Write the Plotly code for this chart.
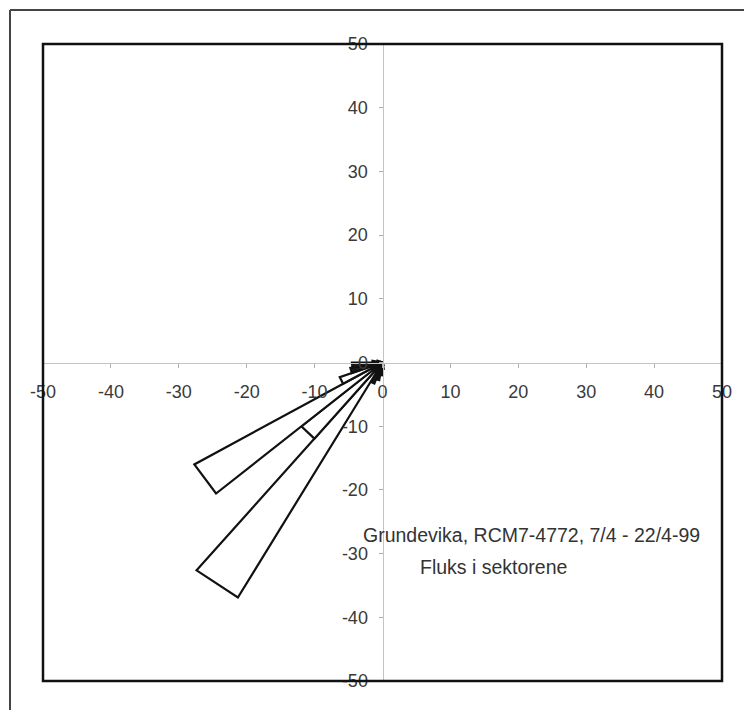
import numpy as np
import plotly.graph_objects as go

# Sector start bearings (degrees, clockwise from north), 10-degree sectors
sector_start = list(range(0, 360, 10))
# Flux in each sector
flux = [0, 0, 0, 0, 0, 0, 0, 0, 0, 0, 0, 0, 0, 0, 0, 0,
        0.6, 1.0, 2.0, 2.8, 3.5, 42.6, 15.6, 32.0, 6.7, 4.8, 4.5, 1.5,
        0.8, 0.5, 0, 0, 0, 0, 0, 0]
sector_width = 10

tick_vals = [-50, -40, -30, -20, -10, 0, 10, 20, 30, 40, 50]
tick_text = ["-50", "-40", "-30", "-20", "-10", "0", "10", "20", "30", "40", "50"]

title_line1 = "Grundevika, RCM7-4772, 7/4 - 22/4-99"
title_line2 = "Fluks i sektorene"

fig = go.Figure()
for b, f in zip(sector_start, flux):
    if f <= 0:
        continue
    a1 = np.deg2rad(90 - b)
    a2 = np.deg2rad(90 - (b + sector_width))
    fig.add_trace(go.Scatter(
        x=[0, f * np.cos(a1), f * np.cos(a2), 0],
        y=[0, f * np.sin(a1), f * np.sin(a2), 0],
        mode="lines", fill="toself",
        fillcolor="#1a1a1a" if f < 5 else "white",
        line=dict(color="#111111", width=2.2),
        hoverinfo="skip", showlegend=False))

tickfont = dict(family="Liberation Sans, Arial, sans-serif", size=18, color="#3a3a3a")
axis_common = dict(
    range=[-50, 50], showgrid=False, zeroline=False, showline=True,
    linecolor="#c4c4c4", linewidth=1, ticks="outside", ticklen=4,
    tickcolor="#b0b0b0", tickwidth=1, tickfont=tickfont,
    tickmode="array", tickvals=tick_vals, ticktext=tick_text,
    anchor="free", position=0.5, fixedrange=True)

fig.update_layout(
    width=744, height=710,
    margin=dict(l=43, r=22, t=44, b=29),
    paper_bgcolor="white", plot_bgcolor="white",
    xaxis=dict(ticklabelstandoff=9, **axis_common),
    yaxis=dict(ticklabelstandoff=7, **axis_common),
    shapes=[
        dict(type="rect", xref="paper", yref="paper", x0=0, x1=1, y0=0, y1=1,
             line=dict(color="#111111", width=2.5), layer="above"),
        dict(type="line", xref="paper", yref="paper", x0=-0.0486, x1=-0.0486,
             y0=-0.05, y1=1.0534, line=dict(color="#444444", width=2)),
        dict(type="line", xref="paper", yref="paper", x0=-0.0486, x1=1.05,
             y0=1.0534, y1=1.0534, line=dict(color="#444444", width=2)),
    ],
    annotations=[
        dict(text=title_line1, xref="paper", yref="paper", x=0.72, y=0.229,
             showarrow=False, xanchor="center", yanchor="middle",
             font=dict(family="Liberation Sans, Arial, sans-serif", size=19.5, color="#333333")),
        dict(text=title_line2, xref="paper", yref="paper", x=0.664, y=0.179,
             showarrow=False, xanchor="center", yanchor="middle",
             font=dict(family="Liberation Sans, Arial, sans-serif", size=19.5, color="#333333")),
    ],
)

fig.write_html("out.html", config={"displayModeBar": False},
               post_script="document.body.style.margin='0px';")
